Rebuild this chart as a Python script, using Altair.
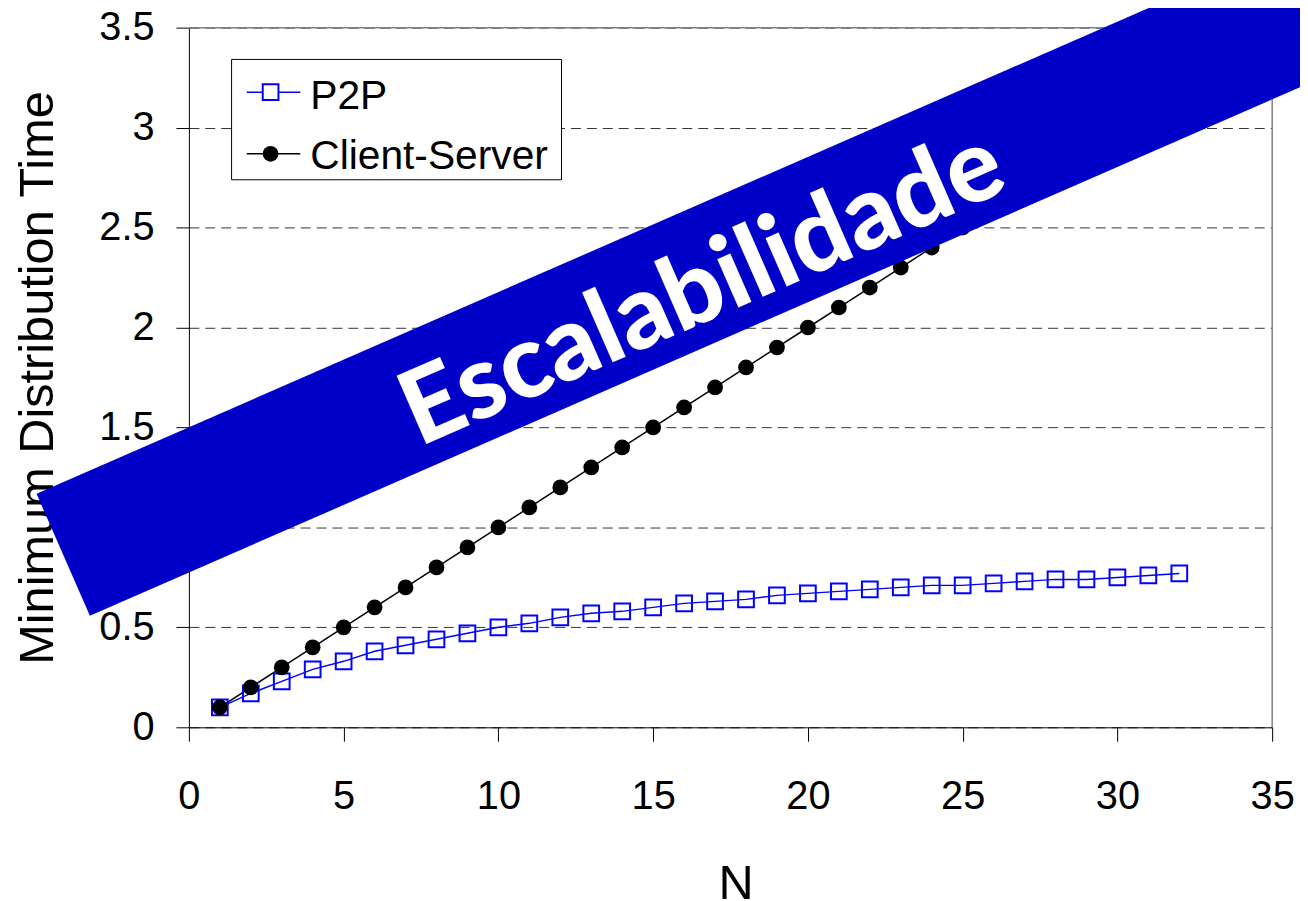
import altair as alt
import pandas as pd

# ---- data ----
N = list(range(1, 33))
p2p = [0.10, 0.17, 0.23, 0.29, 0.33, 0.38, 0.41, 0.44, 0.47, 0.50,
       0.52, 0.55, 0.57, 0.58, 0.60, 0.62, 0.63, 0.64, 0.66, 0.67,
       0.68, 0.69, 0.70, 0.71, 0.71, 0.72, 0.73, 0.74, 0.74, 0.75,
       0.76, 0.77]
client_server = [0.1, 0.2, 0.3, 0.4, 0.5, 0.6, 0.7, 0.8, 0.9, 1.0,
                 1.1, 1.2, 1.3, 1.4, 1.5, 1.6, 1.7, 1.8, 1.9, 2.0,
                 2.1, 2.2, 2.3, 2.4, 2.5, 2.6, 2.7, 2.8, 2.9, 3.0,
                 3.1, 3.2]
series_names = ["P2P", "Client-Server"]
series_colors = ["#0000FF", "#000000"]
x_ticks = [0, 5, 10, 15, 20, 25, 30, 35]
y_ticks = [0, 0.5, 1, 1.5, 2, 2.5, 3, 3.5]

# annotation banner (in data units)
banner_x = [-4.06, 39.5]
banner_y = [0.863, 3.809]
banner_text = "Escalabilidade"
banner_text_x = [16.6]
banner_text_y = [2.19]

# legend box layout (in data units)
legend_box_x = [1.38, 12.04]
legend_box_y = [2.739, 3.341]
legend_row_y = [3.177, 2.869]
legend_label_y = [3.092, 2.794]
legend_line_x = [1.87, 3.60]
legend_marker_x = [2.64, 2.64]
legend_label_x = [3.92, 3.92]

FONT = "Liberation Sans"

df = pd.DataFrame({
    "N": N + N,
    "value": p2p + client_server,
    "series": [series_names[0]] * len(N) + [series_names[1]] * len(N),
})

xs = alt.Scale(domain=[x_ticks[0], x_ticks[-1]], nice=False, zero=False)
ys = alt.Scale(domain=[y_ticks[0], y_ticks[-1]], nice=False)
color_scale = alt.Scale(domain=series_names, range=series_colors)

x_axis = alt.Axis(
    values=x_ticks, grid=False,
    domainColor="black", tickColor="black", tickSize=14, tickWidth=1,
    labelFont=FONT, labelFontSize=40, labelColor="black", labelPadding=36,
    labelFlush=False,
    titleFont=FONT, titleFontSize=49, titleFontWeight="normal", titleColor="black",
    titleX=550, titleY=172, titleBaseline="alphabetic", titleAlign="center",
)
y_axis = alt.Axis(
    values=y_ticks, format="~g", grid=True,
    gridColor="#333333", gridDash=[10, 6], gridWidth=1,
    domainColor="black", tickColor="black", tickSize=13, tickWidth=1,
    labelFont=FONT, labelFontSize=40, labelColor="black", labelPadding=22,
    titleFont=FONT, titleFontSize=49, titleFontWeight="normal", titleColor="black",
    titleX=-137, titleY=352, titleAngle=270, titleBaseline="alphabetic", titleAlign="center",
)
X_TITLE = "N"
Y_TITLE = "Minimum Distribution Time"


def xenc(field):
    return alt.X(field, scale=xs, axis=x_axis, title=X_TITLE)


def yenc(field):
    return alt.Y(field, scale=ys, axis=y_axis, title=Y_TITLE)


base = alt.Chart(df).encode(x=xenc("N:Q"), y=yenc("value:Q"))

# top and right frame of the plot area
fdf = pd.DataFrame({
    "x": [x_ticks[0], x_ticks[-1]], "x2": [x_ticks[-1], x_ticks[-1]],
    "y": [y_ticks[-1], y_ticks[0]], "y2": [y_ticks[-1], y_ticks[-1]],
})
frame = alt.Chart(fdf).mark_rule(color="#808080", strokeWidth=1.5).encode(
    x=xenc("x:Q"), y=yenc("y:Q"), x2="x2:Q", y2="y2:Q"
)

lines = base.mark_line(strokeWidth=1.5).encode(
    color=alt.Color("series:N", scale=color_scale, legend=None)
)

p2p_pts = base.transform_filter(alt.datum.series == "P2P").mark_point(
    shape="square", size=250, filled=False, color="#0000FF", strokeWidth=2, opacity=1
)
cs_pts = base.transform_filter(alt.datum.series == "Client-Server").mark_circle(
    size=250, color="#000000", opacity=1
)

bdf = pd.DataFrame({"x": [banner_x[0]], "y": [banner_y[0]], "x2": [banner_x[1]], "y2": [banner_y[1]]})
banner = alt.Chart(bdf).mark_rule(strokeWidth=134, color="#0000C8", strokeCap="butt").encode(
    x=xenc("x:Q"), y=yenc("y:Q"), x2="x2:Q", y2="y2:Q",
)

tdf = pd.DataFrame({"x": banner_text_x, "y": banner_text_y, "t": [banner_text]})
banner_label = alt.Chart(tdf).mark_text(
    angle=336.4, font="Lato", fontWeight=900, fontSize=103, color="white",
    align="center", baseline="middle",
).encode(x=xenc("x:Q"), y=yenc("y:Q"), text="t:N")

# ---- legend (drawn as layers through the same scales) ----
box_df = pd.DataFrame({"x": [legend_box_x[0]], "x2": [legend_box_x[1]],
                       "y": [legend_box_y[0]], "y2": [legend_box_y[1]]})
leg_box = alt.Chart(box_df).mark_rect(fill="white", stroke="black", strokeWidth=1).encode(
    x=xenc("x:Q"), x2="x2:Q", y=yenc("y:Q"), y2="y2:Q"
)
leg_df = pd.DataFrame({
    "series": series_names,
    "lx": [legend_line_x[0]] * 2, "lx2": [legend_line_x[1]] * 2,
    "ly": legend_row_y, "mx": legend_marker_x,
    "tx": legend_label_x, "ty": legend_label_y,
})
leg_base = alt.Chart(leg_df)
leg_lines = leg_base.mark_rule(strokeWidth=1.5).encode(
    x=xenc("lx:Q"), x2="lx2:Q", y=yenc("ly:Q"),
    color=alt.Color("series:N", scale=color_scale, legend=None),
)
leg_sq = leg_base.transform_filter(alt.datum.series == "P2P").mark_point(
    shape="square", size=250, filled=True, fill="white", stroke="#0000FF", strokeWidth=2, opacity=1
).encode(x=xenc("mx:Q"), y=yenc("ly:Q"))
leg_circ = leg_base.transform_filter(alt.datum.series == "Client-Server").mark_circle(
    size=250, color="#000000", opacity=1
).encode(x=xenc("mx:Q"), y=yenc("ly:Q"))
leg_text = leg_base.mark_text(
    font=FONT, fontSize=41, color="black", align="left", baseline="alphabetic"
).encode(x=xenc("tx:Q"), y=yenc("ty:Q"), text="series:N")

chart = alt.layer(
    frame, lines, p2p_pts, cs_pts, banner, banner_label,
    leg_box, leg_lines, leg_sq, leg_circ, leg_text,
).properties(
    width=1090, height=704,
    autosize=alt.AutoSizeParams(type="none"),
    padding={"left": 182, "top": 17, "right": 28, "bottom": 172},
    background="white",
).configure_view(stroke=None)

chart.save("out.html", embed_options={"renderer": "svg", "actions": False})
